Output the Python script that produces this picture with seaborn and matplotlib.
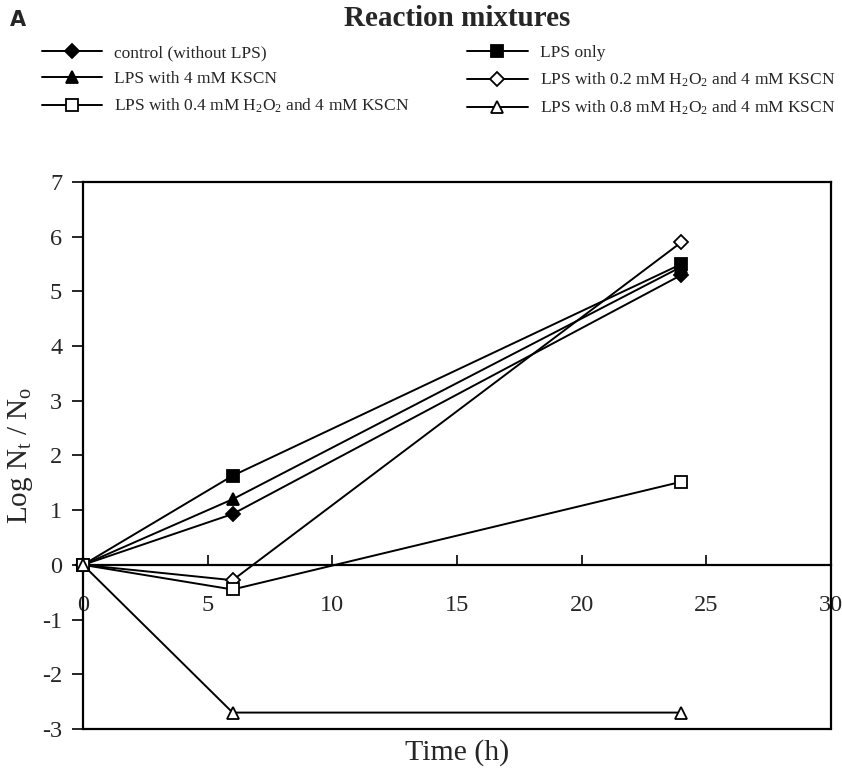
import matplotlib
matplotlib.use("Agg")
import matplotlib.pyplot as plt
import seaborn as sns
import pandas as pd

# ---- data ----
times = [0, 6, 24]
series_names = [
    "control (without LPS)",
    "LPS only",
    "LPS with 4 mM KSCN",
    "LPS with 0.2 mM H$_2$O$_2$ and 4 mM KSCN",
    "LPS with 0.4 mM H$_2$O$_2$ and 4 mM KSCN",
    "LPS with 0.8 mM H$_2$O$_2$ and 4 mM KSCN",
]
control = [0.0, 0.93, 5.30]
lps_only = [0.0, 1.63, 5.50]
lps_kscn = [0.0, 1.20, 5.45]
h2o2_02 = [0.0, -0.28, 5.90]
h2o2_04 = [0.0, -0.45, 1.52]
h2o2_08 = [0.0, -2.70, -2.70]
values = [control, lps_only, lps_kscn, h2o2_02, h2o2_04, h2o2_08]
x_ticks = [0, 5, 10, 15, 20, 25, 30]
y_ticks = [-3, -2, -1, 0, 1, 2, 3, 4, 5, 6, 7]

# ---- style ----
sns.set_style("white")
plt.rcParams["font.family"] = ["Liberation Serif", "DejaVu Serif"]
plt.rcParams["mathtext.fontset"] = "custom"
plt.rcParams["mathtext.rm"] = "Liberation Serif"
plt.rcParams["mathtext.it"] = "Liberation Serif:italic"

markers = ["D", "s", "^", "D", "s", "^"]
facecolors = ["black", "black", "black", "white", "white", "white"]
msizes = [7, 8, 9, 7, 8, 9]

fig = plt.figure(figsize=(8.42, 7.8), dpi=100)
ax = fig.add_axes([0.0986, 0.0654, 0.8884, 0.7013])

rows = []
for name, vals in zip(series_names, values):
    for t, v in zip(times, vals):
        rows.append({"time": t, "value": v, "series": name})
df = pd.DataFrame(rows)

for name, m, fc, ms in zip(series_names, markers, facecolors, msizes):
    sub = df[df["series"] == name]
    sns.lineplot(data=sub, x="time", y="value", ax=ax, color="black",
                 marker=m, markersize=ms, markerfacecolor=fc,
                 markeredgecolor="black", markeredgewidth=1.3,
                 linewidth=1.4, label=name, clip_on=False, zorder=3)
handles = {ln.get_label(): ln for ln in ax.get_lines()}
ax.get_legend().remove()

ax.set_xlim(0, 30)
ax.set_ylim(-3, 7)
ax.set_xticks(x_ticks)
ax.set_yticks(y_ticks)

for s in ["left", "right", "top", "bottom"]:
    ax.spines[s].set_visible(True)
    ax.spines[s].set_color("black")
    ax.spines[s].set_linewidth(1.6)
ax.spines["bottom"].set_position(("data", 0))
ax.axhline(-3, color="black", linewidth=1.6, clip_on=False, zorder=2)

ax.tick_params(axis="y", direction="out", length=8, width=1.4, left=True,
               labelsize=17.5, pad=7)
ax.tick_params(axis="x", direction="in", length=7, width=1.4, bottom=True,
               labelsize=17.5, pad=22)
ax.set_yticklabels([str(v) for v in y_ticks])
ax.set_xticklabels([str(v) for v in x_ticks])

ax.set_xlabel("Time (h)", fontsize=21.5)
ax.xaxis.set_label_coords(0.5, -0.018)
ax.set_ylabel(r"Log N$_{\rm t}$ / N$_{\rm o}$", fontsize=21)
ax.yaxis.set_label_coords(-0.064, 0.5)

fig.text(0.543, 0.976, "Reaction mixtures", fontsize=21, fontweight="bold",
         ha="center", va="center")
fig.text(0.012, 0.974, "A", fontsize=15, fontweight="bold",
         family="DejaVu Sans", ha="left", va="center")

order = [0, 2, 4, 1, 3, 5]
leg = fig.legend([handles[series_names[i]] for i in order],
                 [series_names[i] for i in order],
                 ncol=2, loc="upper left", bbox_to_anchor=(0.039, 0.953),
                 frameon=False, fontsize=12.5, handlelength=3.5, borderpad=0,
                 handletextpad=0.7, columnspacing=3.3, labelspacing=0.55)

fig.savefig("out.png", dpi=100)
